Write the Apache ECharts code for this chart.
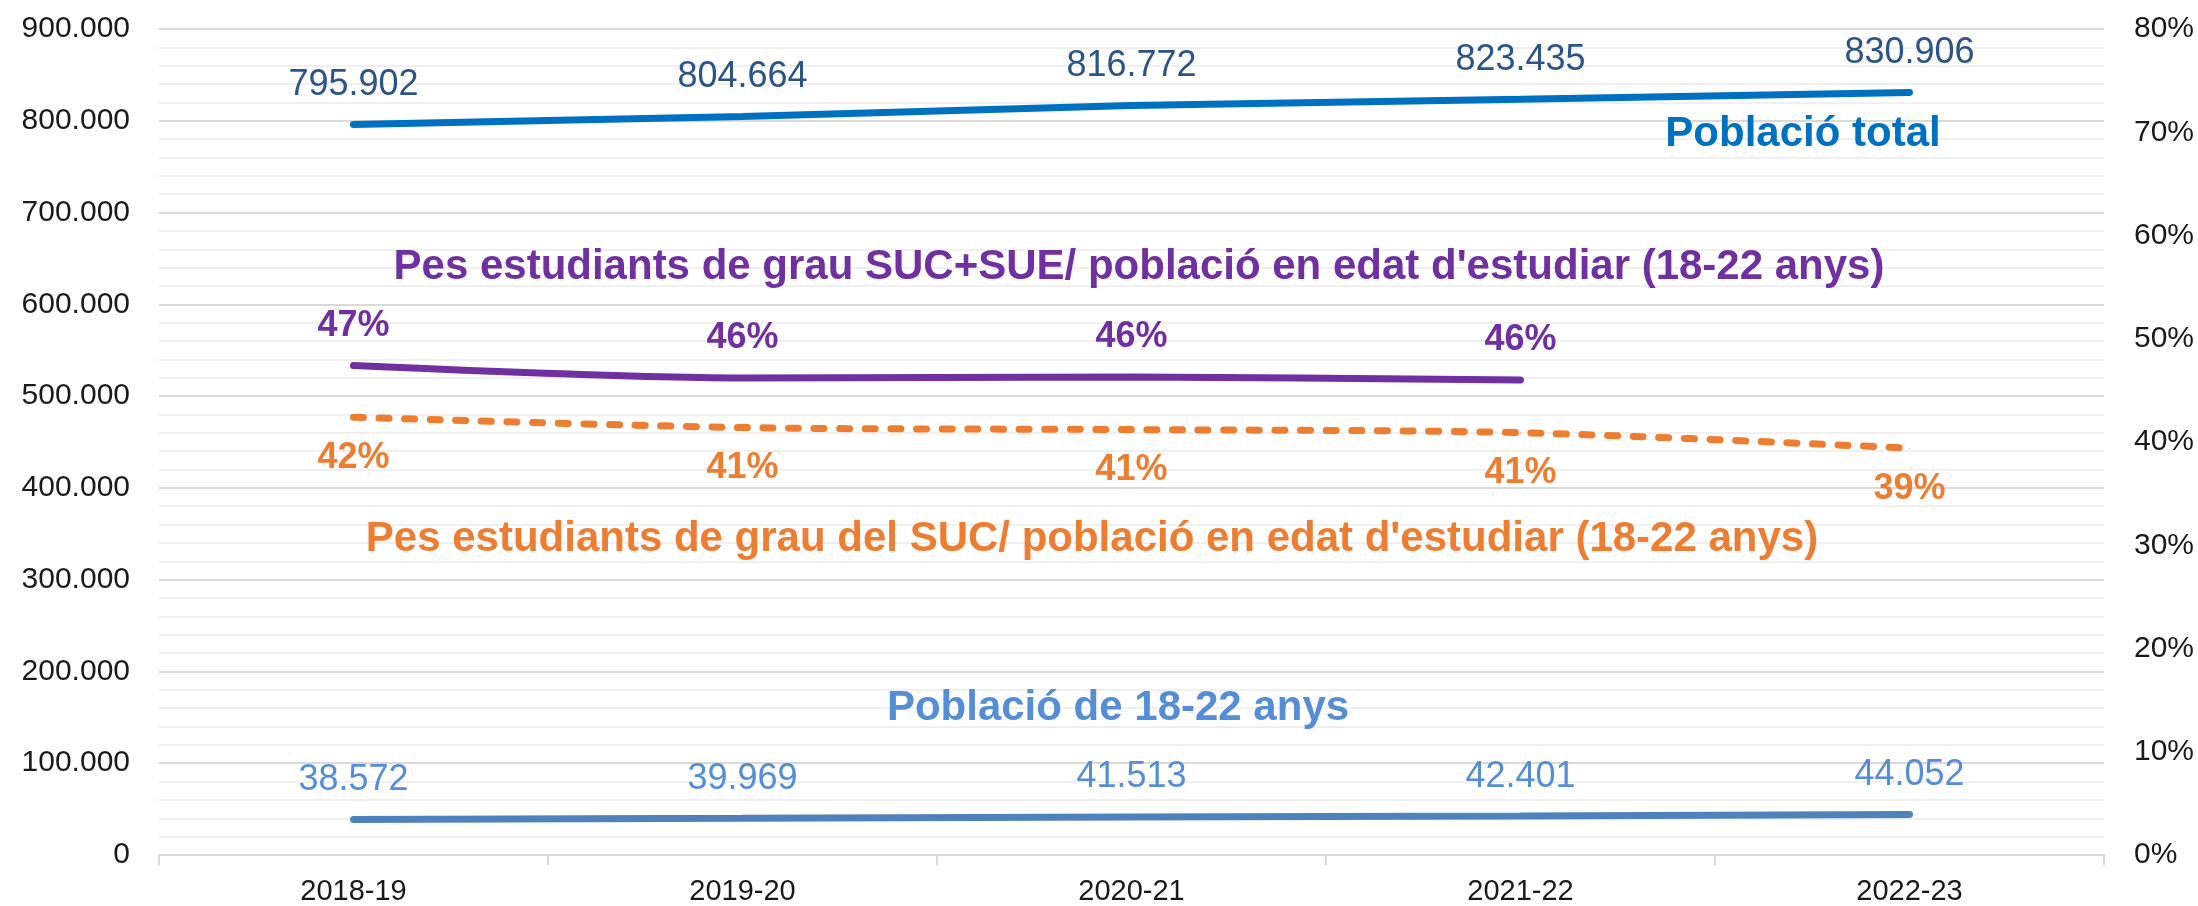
<!DOCTYPE html>
<html>
<head>
<meta charset="utf-8">
<script src="https://cdn.jsdelivr.net/npm/echarts@6/dist/echarts.min.js"></script>
<style>
  html, body { margin: 0; padding: 0; background: #fff; }
  #chart { width: 2198px; height: 906px; }
</style>
</head>
<body>
<div id="chart"></div>
<script>
  // dades
  const cursos = ['2018-19', '2019-20', '2020-21', '2021-22', '2022-23']
  const poblacioTotal = [795902, 804664, 816772, 823435, 830906]
  const poblacio1822 = [38572, 39969, 41513, 42401, 44052]
  const pesSucSue = [0.474, 0.462, 0.463, 0.460, null]
  const pesSuc = [0.424, 0.414, 0.412, 0.409, 0.394]

  const font = "'Liberation Sans', Arial, sans-serif"
  const narrow = "'Liberation Sans Narrow', 'Arial Narrow', 'Liberation Sans', sans-serif"

  function punts(v) {
    return String(Math.round(v)).replace(/\B(?=(\d{3})+(?!\d))/g, '.')
  }
  function pct(v) {
    return Math.round(v * 100) + '%'
  }

  // textos dins del grafic
  function rotul(text, x, y, color) {
    return {
      type: 'text', x: x, y: y, z: 100,
      style: {
        text: text, fill: color,
        fontSize: 42, fontWeight: 'bold', fontFamily: font,
        align: 'center', verticalAlign: 'middle'
      }
    }
  }

  const chart = echarts.init(document.getElementById('chart'))

  chart.setOption({
    animation: false,
    grid: {
      left: 159,
      right: 94,
      top: 29,
      bottom: 51
    },
    xAxis: {
      type: 'category',
      data: cursos,
      boundaryGap: true,
      axisLine: { lineStyle: { color: '#d9d9d9', width: 2 } },
      axisTick: { show: true, length: 10, lineStyle: { color: '#d9d9d9', width: 2 } },
      axisLabel: { color: '#1a1a1a', fontSize: 29, fontFamily: font, margin: 22 },
      splitLine: { show: false }
    },
    yAxis: [
      {
        type: 'value',
        min: 0,
        max: 900000,
        interval: 100000,
        axisLine: { show: false },
        axisTick: { show: false },
        axisLabel: {
          color: '#1a1a1a', fontSize: 30, fontFamily: font, margin: 29,
          formatter: punts
        },
        splitLine: { lineStyle: { color: '#d9d9d9', width: 2 } },
        minorTick: { show: false, splitNumber: 5 },
        minorSplitLine: { show: true, lineStyle: { color: '#f0f0f0', width: 2 } }
      },
      {
        type: 'value',
        min: 0,
        max: 0.8,
        interval: 0.1,
        axisLine: { show: false },
        axisTick: { show: false },
        splitLine: { show: false },
        axisLabel: {
          color: '#1a1a1a', fontSize: 30, fontFamily: font, margin: 30,
          formatter: pct
        }
      }
    ],
    graphic: [
      rotul('Població total', 1803, 134, '#0070C0'),
      rotul("Pes estudiants de grau SUC+SUE/ població en edat d'estudiar (18-22 anys)", 1139, 267, '#7030A0'),
      rotul("Pes estudiants de grau del SUC/ població en edat d'estudiar (18-22 anys)", 1092, 539, '#ED7D31'),
      rotul('Població de 18-22 anys', 1118, 708, '#558ED5')
    ],
    series: [
      {
        name: 'Població total',
        type: 'line',
        data: poblacioTotal,
        symbol: 'circle',
        symbolSize: 1,
        itemStyle: { color: '#0070C0' },
        lineStyle: { color: '#0070C0', width: 7, cap: 'round' },
        label: {
          show: true, position: 'top', distance: 21,
          color: '#2B5487', fontSize: 36, fontFamily: font,
          formatter: p => punts(p.value)
        }
      },
      {
        name: 'Població de 18-22 anys',
        type: 'line',
        data: poblacio1822,
        symbol: 'circle',
        symbolSize: 1,
        itemStyle: { color: '#4F81BD' },
        lineStyle: { color: '#4F81BD', width: 7, cap: 'round' },
        label: {
          show: true, position: 'top', distance: 21,
          color: '#558ED5', fontSize: 36, fontFamily: font,
          formatter: p => punts(p.value)
        }
      },
      {
        name: 'Pes SUC+SUE',
        type: 'line',
        yAxisIndex: 1,
        data: pesSucSue,
        smooth: 0.3,
        symbol: 'circle',
        symbolSize: 1,
        itemStyle: { color: '#7030A0' },
        lineStyle: { color: '#7030A0', width: 7, cap: 'round' },
        label: {
          show: true, position: 'top', distance: 21,
          color: '#7030A0', fontSize: 36, fontWeight: 'bold', fontFamily: narrow,
          formatter: p => pct(p.value)
        }
      },
      {
        name: 'Pes SUC',
        type: 'line',
        yAxisIndex: 1,
        data: pesSuc,
        smooth: 0.3,
        symbol: 'circle',
        symbolSize: 1,
        itemStyle: { color: '#ED7D31' },
        lineStyle: { color: '#ED7D31', width: 7, cap: 'round', type: [10, 15.6] },
        label: {
          show: true, position: 'bottom', distance: 22,
          color: '#ED7D31', fontSize: 36, fontWeight: 'bold', fontFamily: narrow,
          formatter: p => pct(p.value)
        }
      }
    ]
  })
</script>
</body>
</html>
